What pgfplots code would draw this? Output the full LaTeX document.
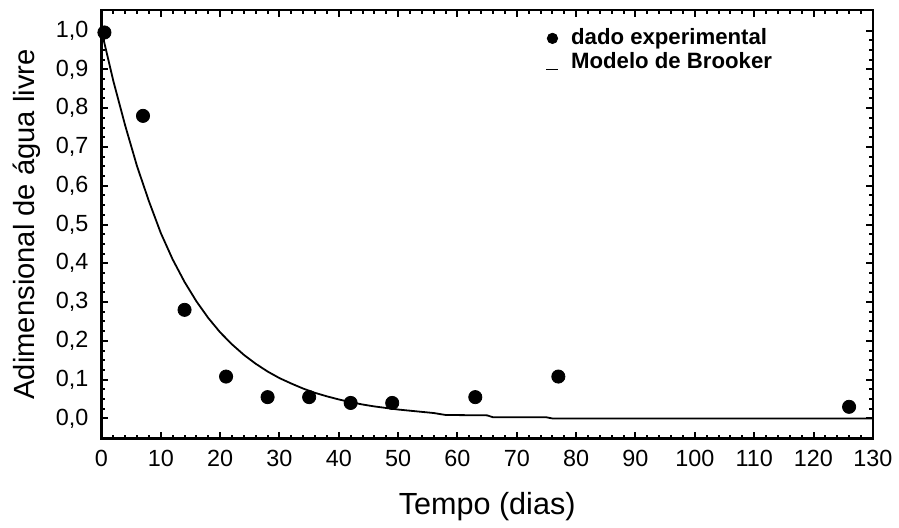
\documentclass[border=0pt]{standalone}
\usepackage{fontspec}
\setmainfont{Liberation Sans}
\usepackage{pgfplots}
\pgfplotsset{compat=1.18}

% dados experimentais
\pgfplotstableread{
x y
0.5 0.995
7 0.780
14 0.280
21 0.108
28 0.055
35 0.055
42 0.040
49 0.040
63 0.055
77 0.108
126 0.030
}\dados

% curva do modelo de Brooker
\pgfplotstableread{
x y
0 1.000
2 0.870
4 0.755
6 0.650
8 0.560
10 0.478
12 0.410
14 0.352
16 0.302
18 0.259
20 0.222
22 0.191
24 0.164
26 0.141
28 0.121
30 0.104
32 0.090
34 0.077
36 0.066
38 0.057
40 0.049
42 0.042
44 0.036
46 0.031
48 0.027
50 0.023
52 0.020
54 0.017
56 0.014
58 0.009
65 0.008
66 0.003
75 0.003
76 0.000
130 0.000
}\brooker

\begin{document}
\begin{tikzpicture}
\begin{axis}[
    name=ax,
    width=386pt, height=214.5pt,
    scale only axis,
    xmin=0, xmax=130,
    ymin=-0.052, ymax=1.053,
    xtick={0,10,...,130},
    ytick={0,0.1,...,1.0},
    minor x tick num=4,
    minor y tick num=3,
    tick align=inside,
    major tick length=3.5pt,
    minor tick length=2pt,
    every tick/.style={black, line width=1pt},
    axis line style={line width=1.3pt},
    xticklabel pos=bottom, yticklabel pos=left,
    xtick pos=both, ytick pos=both,
    /pgf/number format/assume math mode=true,
    yticklabel style={xshift=-3pt, /pgf/number format/.cd, fixed, fixed zerofill, precision=1, use comma},
    xticklabel style={yshift=-2pt},
    ticklabel style={font=\fontsize{11.7}{13}\selectfont},
    xlabel={Tempo (dias)},
    ylabel={Adimensional de água livre},
    xlabel style={font=\fontsize{15.3}{18}\selectfont, yshift=-6pt},
    ylabel style={font=\fontsize{14.6}{17}\selectfont, yshift=1pt},
    legend style={draw=none, fill=none, at={(axis cs:73.8,1.026)}, anchor=north west,
        font=\bfseries\fontsize{11.1}{13}\selectfont, row sep=-1.5pt,
        /tikz/every odd column/.append style={column sep=4pt}},
    legend cell align=left,
]
\addplot[only marks, mark=*, mark size=3.3pt, black,
    legend image code/.code={\fill[black] (3pt,0pt) circle (2.6pt);}] table {\dados};
\addlegendentry{dado experimental}
\addplot[black, line width=0.9pt,
    legend image code/.code={\draw[black, line width=0.7pt] (0pt,-3.5pt) -- (6pt,-3.5pt);}] table {\brooker};
\addlegendentry{Modelo de Brooker}
\end{axis}
\path ([yshift=5pt]ax.north);
\path ([xshift=-3pt]current bounding box.west);
\end{tikzpicture}
\end{document}
